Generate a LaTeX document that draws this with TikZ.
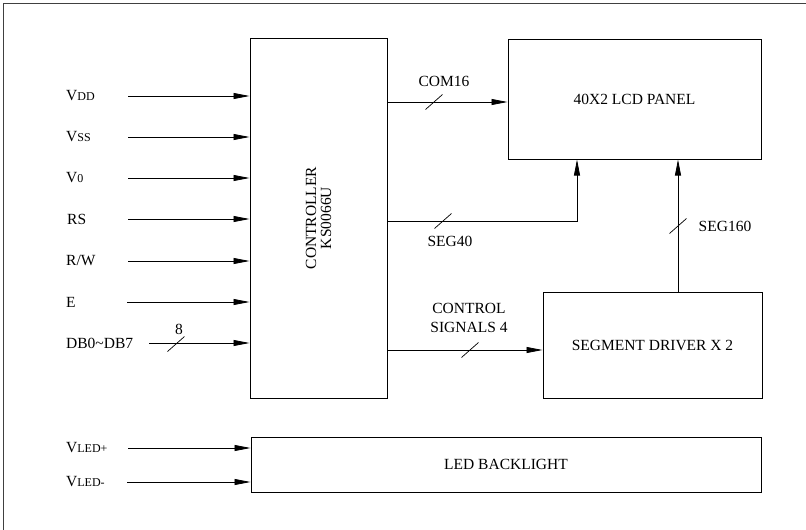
\documentclass[tikz,border=0pt]{standalone}
\usepackage{fontspec}
\setmainfont{Liberation Serif}
\usetikzlibrary{arrows.meta}

% smaller letters that follow a capital V (VDD, VSS, ...)
\newcommand{\lowtxt}[1]{{\fontsize{12}{12}\selectfont #1}}
% short slash across a bus line
\newcommand{\busmark}[1]{\draw[line width=0.7pt] ([shift={(-8.5,7.5)}]#1) -- ([shift={(8.5,-7.5)}]#1);}

\begin{document}
\begin{tikzpicture}[
  x=1pt, y=-1pt,
  block/.style={
    draw=black,
    line width=1pt,
    inner sep=0pt,
    align=center,
    font=\fontsize{15.5}{18}\selectfont
  },
  sig/.style={-{Triangle[length=16pt,width=6pt]}, line width=0.8pt},
  lbl/.style={inner sep=0pt, font=\fontsize{15.5}{18}\selectfont},
  pinlbl/.style={lbl, anchor=west}
]
\useasboundingbox (0,0) rectangle (806,530);
\draw[black!75, line width=1.2pt] (806,3.5) -- (3.5,3.5) -- (3.5,530);

% blocks
\node[block, minimum width=137pt, minimum height=360pt] (ctrl) at (318.5,218) {};
\node[lbl, rotate=90, align=center, font=\fontsize{15.5}{15}\selectfont] (ctrltxt)
  at (ctrl.center) {CONTROLLER\\KS0066U};
\node[block, minimum width=253pt, minimum height=120pt] (lcd) at (634.5,99) {40X2 LCD PANEL};
\node[block, minimum width=219pt, minimum height=106pt] (drv) at (652.5,345) {SEGMENT DRIVER X 2};
\node[block, minimum width=510pt, minimum height=55pt] (led) at (506,464.5) {LED BACKLIGHT};

% controller inputs
\node[pinlbl] (lvdd) at (66,96) {V\lowtxt{DD}};
\coordinate (ivdd) at (128,96);
\draw[sig] (ivdd) -- (ivdd -| ctrl.west);

\node[pinlbl] (lvss) at (66,137) {V\lowtxt{SS}};
\coordinate (ivss) at (128,137);
\draw[sig] (ivss) -- (ivss -| ctrl.west);

\node[pinlbl] (lvo) at (66,178) {V\lowtxt{0}};
\coordinate (ivo) at (128,178);
\draw[sig] (ivo) -- (ivo -| ctrl.west);

\node[pinlbl] (lrs) at (67,219) {RS};
\coordinate (irs) at (128,219);
\draw[sig] (irs) -- (irs -| ctrl.west);

\node[pinlbl] (lrw) at (66,261) {R/W};
\coordinate (irw) at (128,261);
\draw[sig] (irw) -- (irw -| ctrl.west);

\node[pinlbl] (le) at (66,302) {E};
\coordinate (ie) at (127,302);
\draw[sig] (ie) -- (ie -| ctrl.west);

\node[pinlbl] (ldb) at (66,343) {DB0\textasciitilde DB7};
\coordinate (idb) at (149,343);
\draw[sig] (idb) -- (idb -| ctrl.west);
\coordinate (bdb) at (176,344);
\busmark{bdb}
\node[lbl] (ndb) at (179,329) {8};

% backlight inputs
\node[pinlbl] (lledp) at (66,448) {V\lowtxt{LED+}};
\coordinate (iledp) at (128,448);
\draw[sig] (iledp) -- (iledp -| led.west);

\node[pinlbl] (lledm) at (66,482) {V\lowtxt{LED-}};
\coordinate (iledm) at (127,482);
\draw[sig] (iledm) -- (iledm -| led.west);

% controller outputs
\coordinate (bcom) at (434,102);
\draw[sig] (ctrl.east |- bcom) -- (lcd.west |- bcom);
\busmark{bcom}
\node[lbl] (ncom) at (444,81) {COM16};

\coordinate (bseg) at (443,221);
\draw[sig] (ctrl.east |- bseg) -| ([xshift=-57.5pt]lcd.south);
\busmark{bseg}
\node[lbl] (nseg) at (450,241) {SEG40};

\coordinate (bctl) at (470,350);
\draw[sig] (ctrl.east |- bctl) -- (drv.west |- bctl);
\busmark{bctl}
\node[lbl, align=center, font=\fontsize{15.5}{19}\selectfont] (nctl) at (469,318) {CONTROL\\SIGNALS 4};

% driver to panel
\coordinate (bdrv) at (678,226);
\draw[sig] (drv.north -| bdrv) -- (lcd.south -| bdrv);
\busmark{bdrv}
\node[lbl] (ndrv) at (725,226) {SEG160};

\end{tikzpicture}
\end{document}
